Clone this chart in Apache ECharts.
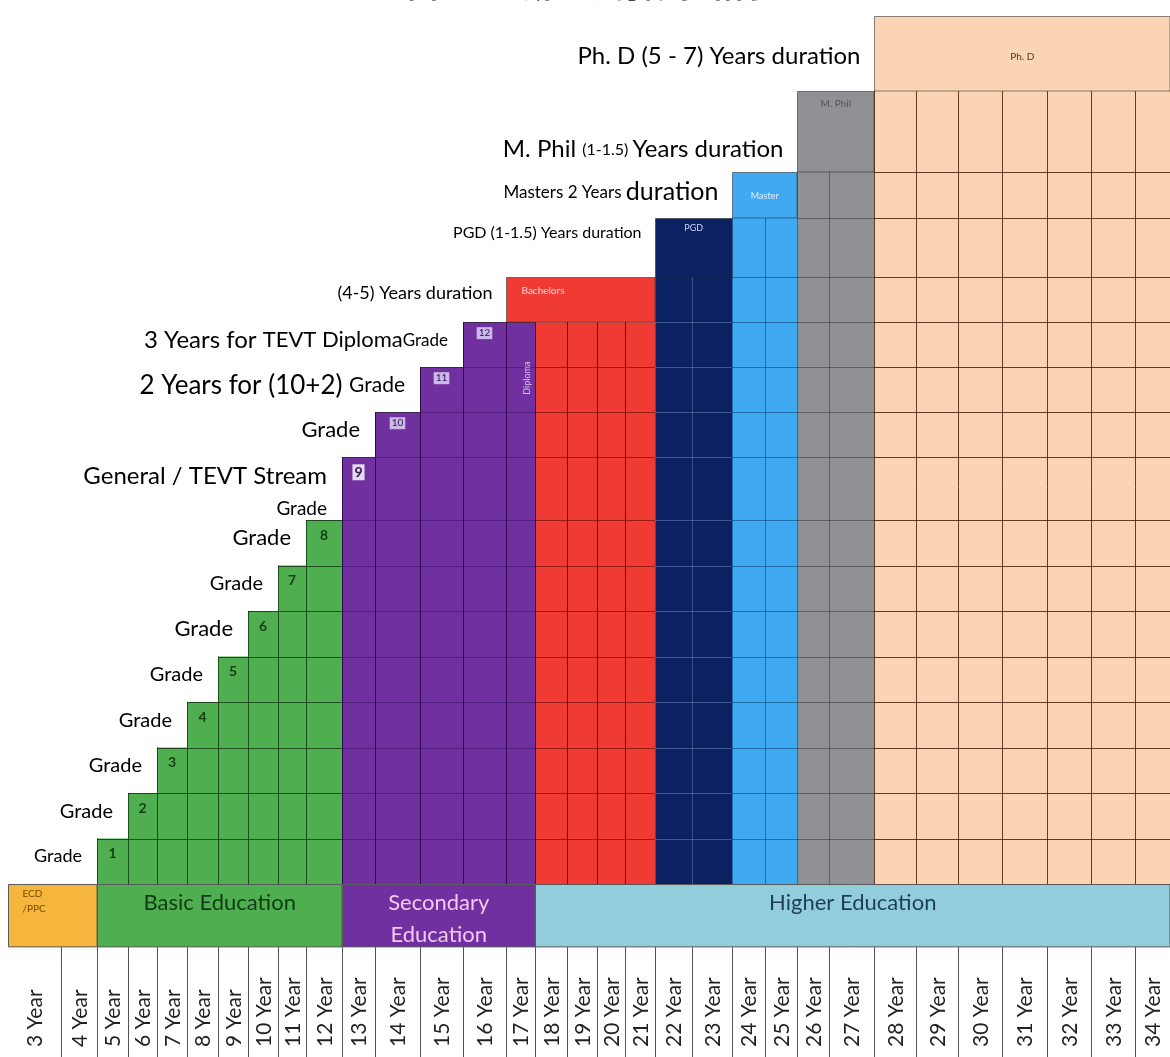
<!DOCTYPE html>
<html>
<head>
<meta charset="utf-8">
<title>Education system</title>
<script src="https://cdn.jsdelivr.net/npm/echarts@6/dist/echarts.min.js"></script>
<style>
  html, body { margin: 0; padding: 0; background: #fff; }
  #chart { width: 1170px; height: 1057px; }
</style>
</head>
<body>
<div id="chart"></div>
<script>
  // ---- data ----
  const ages = ["3 Year", "4 Year", "5 Year", "6 Year", "7 Year", "8 Year", "9 Year", "10 Year",
    "11 Year", "12 Year", "13 Year", "14 Year", "15 Year", "16 Year", "17 Year", "18 Year", "19 Year",
    "20 Year", "21 Year", "22 Year", "23 Year", "24 Year", "25 Year", "26 Year", "27 Year", "28 Year",
    "29 Year", "30 Year", "31 Year", "32 Year", "33 Year", "34 Year"];

  const stageNames = ["ECD\n/PPC", "Basic Education", "Secondary\nEducation", "Higher Education"];
  const stageFrom = ["3 Year", "5 Year", "13 Year", "18 Year"];
  const stageTo = ["4 Year", "12 Year", "17 Year", "34 Year"];

  const gradeNames = ["1", "2", "3", "4", "5", "6", "7", "8", "9", "10", "11", "12"];
  const gradeAges = ["5 Year", "6 Year", "7 Year", "8 Year", "9 Year", "10 Year", "11 Year", "12 Year",
    "13 Year", "14 Year", "15 Year", "16 Year"];
  // height of each grade step, in grade rows
  const gradeTops = [1, 2, 3, 4, 5, 6, 7, 8, 9.38, 10.37, 11.36, 12.35];
  const gradeNotes = ["Grade", "Grade", "Grade", "Grade", "Grade", "Grade", "Grade", "Grade",
    "General / TEVT Stream|\nGrade", "Grade", "2 Years for (10+2) |Grade", "3 Years for |TEVT Diploma|Grade"];

  const diplomaName = "Diploma";
  const diplomaAge = "17 Year";
  const diplomaTop = 12.35;

  const programNames = ["Bachelors", "PGD", "Master", "M. Phil", "Ph. D"];
  const programHeadFrom = ["17 Year", "22 Year", "24 Year", "26 Year", "28 Year"];
  const programFrom = ["18 Year", "22 Year", "24 Year", "26 Year", "28 Year"];
  const programTo = ["21 Year", "23 Year", "25 Year", "27 Year", "34 Year"];
  const programBase = [12.35, 13.34, 14.64, 15.65, 17.43];
  const programTop = [13.34, 14.64, 15.65, 17.43, 19.08];
  const programNotes = ["(4-5) Years duration", "PGD (1-1.5) Years duration", "Masters 2 Years |duration",
    "M. Phil |(1-1.5) |Years duration", "Ph. D (5 - 7) Years duration"];

  const titleText = "图2 巴基斯坦教育体系结构";

  // ---- layout / styles ----
  // the slide's columns are not even, so each age gets its own width
  const colWidths = [53, 36, 31, 29, 30, 31, 30, 30, 28, 36, 33, 45, 43, 43, 29, 32, 30, 28, 30, 37,
    40, 33, 32, 32, 45, 42, 42, 44, 45, 44, 44, 35];
  const bandBottom = -1.38;
  const rowBottom = -3.58;
  const FONT = "Lato, 'Noto Sans', sans-serif";
  const TXT = "#383838";

  const palette = {
    basic: { fill: "#4fae4f", h: "rgba(8,45,8,0.7)", v: "rgba(8,45,8,0.75)" },
    secondary: { fill: "#7030a0", h: "rgba(30,0,60,0.35)", v: "rgba(30,0,60,0.8)" },
    Bachelors: { fill: "#f03a34", h: "rgba(80,0,0,0.55)", v: "rgba(60,0,0,0.85)" },
    PGD: { fill: "#0b2161", h: "rgba(130,150,205,0.45)", v: "rgba(130,150,205,0.4)" },
    Master: { fill: "#3faaf2", h: "rgba(10,70,120,0.6)", v: "rgba(10,70,120,0.6)" },
    "M. Phil": { fill: "#8f9194", h: "rgba(45,45,45,0.5)", v: "rgba(45,45,45,0.5)" },
    "Ph. D": { fill: "#fbd4b3", h: "rgba(70,35,10,0.85)", v: "rgba(70,35,10,0.85)" },
  };

  const gradeNoteStyles = [["g18"], ["g20"], ["g20"], ["g20"], ["g20"], ["g22"], ["g20"], ["g22"],
    ["big", "gl"], ["g22"], ["big11", "g21"], ["big12", "mid", "g17"]];
  const programNoteStyles = [["d18"], ["d16"], ["d17", "d25"], ["d24", "d16", "d24"], ["d24"]];
  const programNoteDy = [-7, -15, -3, 18, 3];
  const headerLabel = {
    Bachelors: { align: "left", dy: 13, color: "#ffd9d6", size: 10 },
    PGD: { align: "center", dy: 10, color: "#c9d6ff", size: 9 },
    Master: { align: "center", dy: 24, color: "#e2f2ff", size: 9 },
    "M. Phil": { align: "center", dy: 12, color: "#555", size: 10 },
    "Ph. D": { align: "center", dy: 40, color: "#4a3a30", size: 10 },
  };
  const stageStyle = [
    { fill: "#f6b53c", color: "#7a4a00", size: 10, align: "left", lh: 15 },
    { fill: "#4fae4f", color: "#0f3b12", size: 22, align: "center", lh: 32 },
    { fill: "#7030a0", color: "#f3c9f2", size: 22, align: "center", lh: 32 },
    { fill: "#92cddc", color: "#1f3d57", size: 22, align: "center", lh: 32 },
  ];

  const rs = (size, lh) => ({ fontSize: size, lineHeight: lh, color: TXT, fontFamily: FONT });
  const rich = {
    g17: rs(17, 24), g18: rs(18, 24), g20: rs(20, 24), g21: rs(21, 24), g22: rs(22, 24),
    gl: rs(19, 40), big: rs(24, 26), big11: rs(26, 24), big12: rs(24, 24), mid: rs(22, 24),
    d16: rs(16), d17: rs(17), d18: rs(18), d24: rs(24), d25: rs(25),
  };

  // ---- helpers ----
  const colStart = [];
  let acc = 0;
  colWidths.forEach(w => { colStart.push(acc); acc += w; });
  const totalWidth = acc;
  const ageIdx = a => ages.indexOf(a);
  const colX0 = a => colStart[ageIdx(a)];
  const colX1 = a => colStart[ageIdx(a)] + colWidths[ageIdx(a)];
  const rowLevels = [...new Set([...gradeTops, ...programBase])].sort((a, b) => a - b);

  const toRich = (text, styles) => text.split("|").map((seg, k) => {
    const tag = styles[k] || styles[0];
    return seg.startsWith("\n") ? "\n{" + tag + "|" + seg.slice(1) + "}" : "{" + tag + "|" + seg + "}";
  }).join("");

  const hline = (x1, x2, y, stroke, w) => ({
    type: "line", shape: { x1, y1: y, x2, y2: y }, style: { stroke, lineWidth: w || 1 },
  });
  const vline = (x, y1, y2, stroke, w) => ({
    type: "line", shape: { x1: x, y1, x2: x, y2 }, style: { stroke, lineWidth: w || 1 },
  });

  // every coloured column (grades, diploma, programme years)
  const cells = [];
  gradeAges.forEach((a, k) => cells.push({ x0: colX0(a), x1: colX1(a), top: gradeTops[k], key: k < 8 ? "basic" : "secondary", edge: true }));
  cells.push({ x0: colX0(diplomaAge), x1: colX1(diplomaAge), top: diplomaTop, key: "secondary", edge: true });
  programNames.forEach((p, k) => {
    for (let i = ageIdx(programFrom[k]); i <= ageIdx(programTo[k]); i++) {
      cells.push({ x0: colStart[i], x1: colStart[i] + colWidths[i], top: programBase[k], key: p, edge: false });
    }
  });

  const renderCell = (params, api) => {
    const c = cells[params.dataIndex];
    const st = palette[c.key];
    const top = api.value(2);
    const a = api.coord([api.value(0), 0]);
    const b = api.coord([api.value(1), top]);
    const kids = [{ type: "rect", shape: { x: a[0], y: b[1], width: b[0] - a[0], height: a[1] - b[1] }, style: { fill: st.fill } }];
    rowLevels.forEach(l => {
      if (l < top - 0.01) {
        kids.push(hline(a[0], b[0], Math.round(api.coord([0, l])[1]) + 0.5, st.h));
      }
    });
    kids.push(vline(Math.round(a[0]) + 0.5, b[1], a[1], st.v));
    kids.push(vline(Math.round(b[0]) + 0.5, b[1], a[1], st.v));
    if (c.edge) kids.push(hline(a[0], b[0], Math.round(b[1]) + 0.5, "rgba(0,0,0,0.6)"));
    return { type: "group", children: kids };
  };

  const renderGrade = (params, api) => {
    const k = params.dataIndex;
    const a = api.coord([api.value(0), api.value(2)]);
    const b = api.coord([api.value(1), api.value(2)]);
    const cx = (a[0] + b[0]) / 2;
    const kids = [{
      type: "text", x: a[0] - 15, y: a[1] + 6,
      style: { text: toRich(gradeNotes[k], gradeNoteStyles[k]), rich, align: "right", verticalAlign: "top" },
    }];
    if (k < 8) {
      kids.push({ type: "text", x: cx, y: a[1] + 15, style: { text: gradeNames[k], fill: "#113f12", font: "bold 14px " + FONT, align: "center", verticalAlign: "middle" } });
    } else {
      const big = k === 8;
      kids.push({
        type: "text", x: cx, y: a[1] + (big ? 15 : 11),
        style: {
          text: gradeNames[k], fill: "#2e1450", font: (big ? "bold 14px " : "10px ") + FONT,
          align: "center", verticalAlign: "middle", backgroundColor: big ? "#e4d9ee" : "#cdb8ea", padding: [1, 2],
        },
      });
    }
    return { type: "group", children: kids };
  };

  const renderDiploma = (params, api) => {
    const a = api.coord([api.value(0), api.value(2)]);
    const b = api.coord([api.value(1), api.value(2)]);
    return {
      type: "text", x: (a[0] + b[0]) / 2 + 7, y: a[1] + 56, rotation: Math.PI / 2,
      style: { text: diplomaName, fill: "rgba(236,215,248,0.85)", font: "9px " + FONT, align: "center", verticalAlign: "middle" },
    };
  };

  const renderHeader = (params, api) => {
    const k = params.dataIndex;
    const name = programNames[k];
    const hs = headerLabel[name];
    const a = api.coord([api.value(0), api.value(2)]);
    const b = api.coord([api.value(1), api.value(3)]);
    const x = Math.round(a[0]) + 0.5, y = Math.round(b[1]) + 0.5;
    return {
      type: "group",
      children: [
        { type: "rect", shape: { x, y, width: b[0] - x, height: a[1] - y }, style: { fill: palette[name].fill, stroke: "rgba(40,40,40,0.55)", lineWidth: 1 } },
        {
          type: "text", x: hs.align === "left" ? x + 15 : (x + b[0]) / 2, y: y + hs.dy,
          style: { text: name, fill: hs.color, font: hs.size + "px " + FONT, align: hs.align, verticalAlign: "middle" },
        },
        {
          type: "text", x: x - 14, y: (y + a[1]) / 2 + programNoteDy[k],
          style: { text: toRich(programNotes[k], programNoteStyles[k]), rich, align: "right", verticalAlign: "middle" },
        },
      ],
    };
  };

  const renderStage = (params, api) => {
    const s = stageStyle[params.dataIndex];
    const a = api.coord([api.value(0), 0]);
    const b = api.coord([api.value(1), bandBottom]);
    const x = Math.round(a[0]) + 0.5, y = Math.round(a[1]) + 0.5;
    return {
      type: "group",
      children: [
        { type: "rect", shape: { x, y, width: b[0] - x, height: b[1] - y }, style: { fill: s.fill, stroke: "#5a5a5a", lineWidth: 1 } },
        {
          type: "text", x: s.align === "left" ? x + 14 : (x + b[0]) / 2, y: y + 2,
          style: {
            text: stageNames[params.dataIndex], fill: s.color, font: s.size + "px " + FONT,
            align: s.align, verticalAlign: "top", lineHeight: s.lh,
          },
        },
      ],
    };
  };

  const renderAge = (params, api) => {
    const i = params.dataIndex;
    const a = api.coord([api.value(0), bandBottom]);
    const b = api.coord([api.value(1), rowBottom]);
    const bottom = api.coord([0, -4])[1];
    const kids = [{ type: "rect", shape: { x: a[0], y: a[1], width: b[0] - a[0], height: bottom - a[1] }, style: { fill: "#fff" } }];
    if (i > 0) kids.push(vline(Math.round(a[0]) + 0.5, a[1], bottom, "#555"));
    kids.push({
      type: "text", x: (a[0] + b[0]) / 2 + 1, y: b[1], rotation: Math.PI / 2,
      style: { text: ages[i], fill: "#222", font: "21px " + FONT, align: "left", verticalAlign: "middle" },
    });
    return { type: "group", children: kids };
  };

  const chart = echarts.init(document.getElementById("chart"));

  const option = {
    animation: false,
    backgroundColor: "#fff",
    grid: { left: 8, right: 0, top: 0, bottom: 0 },
    xAxis: { type: "value", min: 0, max: totalWidth, show: false },
    yAxis: { type: "value", min: -3.8, max: 19.43, show: false },
    graphic: [{
      type: "text", left: "center", top: -29,
      style: { text: titleText, fill: "#000", font: "bold 30px 'Noto Sans CJK SC', sans-serif" },
    }],
    series: [
      {
        type: "custom", name: "years", silent: true, z: 2,
        renderItem: renderCell,
        encode: { x: [0, 1], y: 2 },
        data: cells.map(c => [c.x0, c.x1, c.top]),
      },
      {
        type: "custom", name: "headers", silent: true, z: 3,
        renderItem: renderHeader,
        encode: { x: [0, 1], y: [2, 3] },
        data: programNames.map((p, k) => [colX0(programHeadFrom[k]), colX1(programTo[k]), programBase[k], programTop[k]]),
      },
      {
        type: "custom", name: "grades", silent: true, z: 4,
        renderItem: renderGrade,
        encode: { x: [0, 1], y: 2 },
        data: gradeAges.map((a, k) => [colX0(a), colX1(a), gradeTops[k]]),
      },
      {
        type: "custom", name: "diploma", silent: true, z: 4,
        renderItem: renderDiploma,
        encode: { x: [0, 1], y: 2 },
        data: [[colX0(diplomaAge), colX1(diplomaAge), diplomaTop]],
      },
      {
        type: "custom", name: "ages", silent: true, z: 2,
        renderItem: renderAge,
        encode: { x: [0, 1] },
        data: ages.map((a, i) => [colStart[i], colStart[i] + colWidths[i]]),
      },
      {
        type: "custom", name: "stages", silent: true, z: 3,
        renderItem: renderStage,
        encode: { x: [0, 1] },
        data: stageNames.map((s, k) => [colX0(stageFrom[k]), colX1(stageTo[k])]),
      },
    ],
  };

  chart.setOption(option);
  window.addEventListener("resize", () => chart && chart.resize());
</script>
</body>
</html>
